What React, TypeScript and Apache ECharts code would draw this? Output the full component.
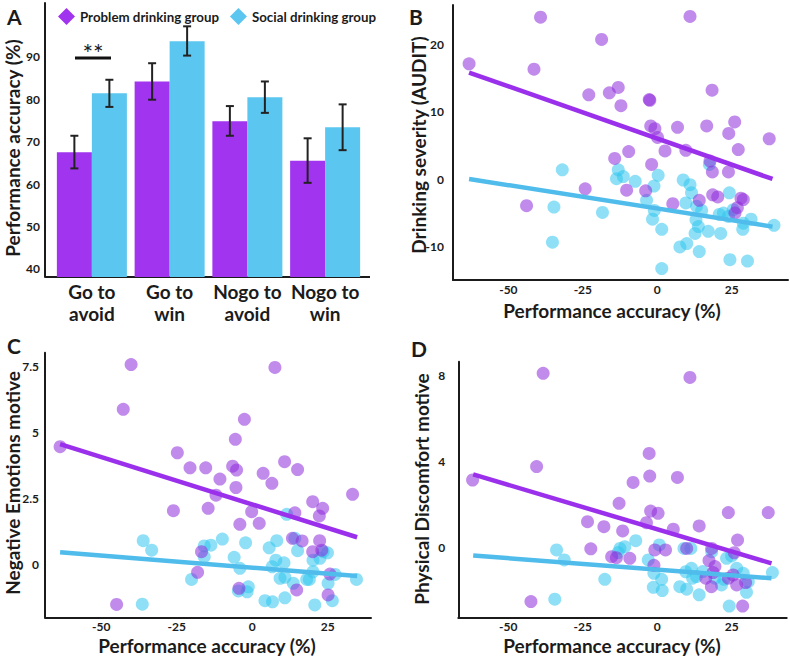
import React, { useEffect, useRef } from "react";
import * as echarts from "echarts";

// ---------- Panel A data ----------
const categories = ["Go to\navoid", "Go to\nwin", "Nogo to\navoid", "Nogo to\nwin"];
const problemMeans = [67.5, 84.2, 74.8, 65.5];
const problemErr = [[63.7, 71.4], [79.9, 88.5], [71.4, 78.4], [60.3, 70.8]];
const socialMeans = [81.4, 93.7, 80.5, 73.4];
const socialErr = [[78.2, 84.6], [90.3, 97.2], [76.8, 84.2], [68.0, 78.8]];
const aTicks = [40, 50, 60, 70, 80, 90];

// ---------- Panel B data ----------
const bProblem = [[-63.2,17.1],[-39.2,24.0],[-41.4,16.3],[-18.7,20.7],[11.0,24.1],[-23.0,12.5],[-16.1,12.8],[-13.1,13.6],[-12.2,10.9],[-2.7,11.8],[-2.5,11.7],[18.4,13.2],[-2.2,7.9],[-0.8,7.5],[0.1,6.2],[6.8,7.7],[16.6,7.9],[26.0,8.5],[24.0,6.8],[37.6,6.0],[27.2,4.4],[2.6,4.2],[9.6,4.3],[-9.6,4.1],[-14.3,3.1],[-1.9,2.2],[17.7,2.7],[18.5,1.1],[23.9,1.1],[-43.9,-3.9],[-24.2,-1.4],[-10.3,-1.6],[-3.9,-1.7],[5.2,-3.6],[14.1,-3.1],[18.6,-2.3],[20.3,-2.6],[28.9,-3.0],[28.1,-2.8],[26.9,-4.2],[26.1,-5.0]];
const bSocial = [[-31.9,1.4],[-34.7,-4.1],[-35.2,-9.3],[-18.4,-4.9],[-13.1,1.4],[-13.7,0.1],[-11.4,0.4],[-7.4,-0.3],[0.3,0.6],[-1.1,-1.0],[-3.6,-3.1],[-1.0,-4.6],[-1.6,-5.9],[1.5,-7.4],[1.5,-13.2],[8.7,-0.1],[11.0,-0.8],[11.5,-2.0],[9.6,-3.5],[13.2,-4.0],[14.9,-4.6],[13.0,-6.0],[13.8,-7.0],[12.7,-8.0],[17.1,-7.7],[21.3,-8.0],[7.6,-10.0],[9.9,-9.5],[14.1,-10.7],[24.2,-2.0],[22.2,-5.0],[23.9,-5.5],[25.5,-4.5],[28.9,-6.5],[31.5,-5.9],[28.7,-7.4],[39.2,-6.8],[24.4,-11.9],[30.3,-12.1],[17.5,2.2],[20.8,-5.2]];
const bProblemFit = [[-63.2, 15.8], [38.7, 0.05]];
const bSocialFit = [[-63.2, 0.05], [38.7, -7.0]];
const bXTicks = [-50, -25, 0, 25];
const bYTicks = [-10, 0, 10, 20];

// ---------- Panel C data ----------
const cProblem = [[-63.6,4.47],[-40.1,7.59],[-42.7,5.89],[7.5,7.48],[-2.6,5.51],[-5.6,4.75],[-24.8,4.24],[-20.6,3.67],[-15.4,3.67],[-6.5,3.73],[-5.2,3.58],[-10.7,3.24],[-5.4,2.92],[-12.0,2.63],[-26.1,2.04],[-14.6,2.13],[-0.2,2.0],[-4.1,1.52],[2.3,1.56],[3.6,3.46],[6.5,3.08],[10.7,3.9],[15.0,3.6],[14.1,1.96],[33.2,2.66],[20.0,2.38],[23.3,2.13],[22.2,1.84],[13.3,0.99],[16.5,0.89],[22.3,0.90],[20.0,0.48],[23.0,0.54],[-16.8,0.48],[-18.1,-0.30],[-44.9,-1.52],[-4.4,-0.91],[14.7,-0.97],[25.7,-0.37],[25.1,-1.16]];
const cSocial = [[-36.1,0.90],[-33.3,0.54],[-36.4,-1.51],[-20.1,-0.57],[-15.9,0.29],[-13.7,0.73],[-15.9,0.70],[-9.9,0.96],[-6.0,0.27],[-4.1,-0.15],[-2.2,0.82],[-1.3,-0.85],[-1.7,-1.04],[-4.6,-1.01],[4.2,-1.38],[6.7,-1.42],[5.6,0.63],[8.1,0.90],[7.8,0.16],[6.6,-0.09],[10.5,0.06],[10.8,-0.49],[9.2,-0.53],[10.8,-1.27],[11.4,1.90],[14.1,0.99],[15.0,0.52],[13.6,-0.72],[18.0,-0.57],[18.9,-0.57],[20.1,0.16],[20.7,-1.54],[22.4,0.23],[23.5,0.48],[24.9,0.44],[25.1,-0.72],[27.4,-0.38],[26.5,-1.38],[34.5,-0.57],[20.1,-0.28]];
const cProblemFit = [[-63.6, 4.57], [34.7, 1.03]];
const cSocialFit = [[-63.6, 0.46], [34.7, -0.44]];
const cXTicks = [-50, -25, 0, 25];
const cYTicks = [0, 2.5, 5, 7.5];

// ---------- Panel D data ----------
const dProblem = [[-62.0,3.14],[-38.3,8.08],[-40.5,3.76],[11.0,7.89],[-2.7,4.37],[-2.5,3.32],[-8.1,3.03],[6.8,3.26],[-12.8,2.06],[-23.4,1.21],[-17.9,0.98],[-11.6,0.78],[-2.2,1.70],[0.3,1.60],[-3.6,1.16],[5.4,0.86],[14.1,1.01],[23.9,1.63],[37.3,1.63],[-22.3,-0.05],[-15.3,-0.41],[-13.7,-0.46],[-9.2,-0.49],[-0.8,-0.10],[2.8,-0.10],[9.9,-0.03],[18.3,-0.03],[27.0,0.36],[25.9,-0.23],[17.4,-0.59],[19.4,-0.87],[18.8,-1.15],[16.3,-1.41],[18.2,-1.80],[23.9,-1.41],[26.7,-1.72],[29.7,-1.61],[-42.4,-2.49],[28.7,-2.70],[-1.1,-0.81],[25.5,-1.26]];
const dSocial = [[-33.8,-0.10],[-31.2,-0.56],[-34.4,-2.38],[-17.6,-1.46],[-12.5,-0.03],[-10.9,0.05],[-13.1,-0.22],[-7.2,0.33],[-3.0,-0.56],[-1.1,-1.18],[1.5,-1.46],[-1.3,-1.83],[1.7,-1.98],[0.7,0.13],[7.6,-1.80],[9.9,-1.92],[9.0,-0.03],[11.3,-0.03],[9.6,-1.11],[11.5,-0.95],[13.2,-1.33],[14.1,-2.18],[18.3,-0.18],[19.4,-1.41],[21.6,-1.72],[23.3,-0.49],[25.0,-0.38],[26.7,-0.95],[28.9,-1.18],[30.6,-1.57],[30.0,-2.06],[24.2,-2.70],[38.7,-1.15],[15.3,-1.10],[22.4,-1.46],[11.9,-1.41]];
const dProblemFit = [[-61.8, 3.40], [38.4, -0.72]];
const dSocialFit = [[-61.8, -0.36], [38.4, -1.41]];
const dXTicks = [-50, -25, 0, 25];
const dYTicks = [0, 4, 8];

const PROBLEM = "Problem drinking group";
const SOCIAL = "Social drinking group";

const FONT = "Lato, 'Open Sans', sans-serif";
const INK = "#1b1b1b";
const BAR_PURPLE = "#A134EE";
const BAR_CYAN = "#5BC6F0";
const DOT_PURPLE = "rgba(142,43,219,0.68)";
const DOT_CYAN = "rgba(49,199,238,0.68)";
const LINE_PURPLE = "#9B30EC";
const LINE_CYAN = "#4FBCEB";

function valueAxis(min: number, max: number, ticks: number[], gridIndex: number, margin: number) {
  return {
    type: "value",
    gridIndex,
    min,
    max,
    axisLine: { show: true, onZero: false, lineStyle: { color: INK, width: 2 } },
    axisTick: { show: false },
    splitLine: { show: false },
    axisLabel: {
      customValues: ticks,
      margin,
      color: INK,
      fontSize: 12,
      lineHeight: 12,
      fontWeight: "bold",
      fontFamily: FONT,
    },
  };
}

function scatterSeries(name: string, data: number[][], idx: number, color: string) {
  return {
    type: "scatter",
    name,
    xAxisIndex: idx,
    yAxisIndex: idx,
    data,
    symbolSize: 13,
    itemStyle: { color },
    z: 3,
  };
}

function fitSeries(name: string, data: number[][], idx: number, color: string) {
  return {
    type: "line",
    name,
    xAxisIndex: idx,
    yAxisIndex: idx,
    data,
    symbol: "none",
    lineStyle: { color, width: 4.5 },
    z: 5,
  };
}

function errorSeries(name: string, ranges: number[][], offset: number) {
  return {
    type: "custom",
    name,
    xAxisIndex: 0,
    yAxisIndex: 0,
    data: ranges.map((r, i) => [i, r[0], r[1]]),
    z: 6,
    renderItem: (params: any, api: any) => {
      const lo = api.coord([api.value(0), api.value(1)]);
      const hi = api.coord([api.value(0), api.value(2)]);
      const x = lo[0] + offset;
      const cap = 4;
      const st = { stroke: "#222", lineWidth: 2 };
      return {
        type: "group",
        children: [
          { type: "line", shape: { x1: x, y1: lo[1], x2: x, y2: hi[1] }, style: st },
          { type: "line", shape: { x1: x - cap, y1: lo[1], x2: x + cap, y2: lo[1] }, style: st },
          { type: "line", shape: { x1: x - cap, y1: hi[1], x2: x + cap, y2: hi[1] }, style: st },
        ],
      };
    },
  };
}

function title(text: string, x: number, y: number, rotated: boolean) {
  return {
    type: "text",
    x,
    y,
    rotation: rotated ? Math.PI / 2 : 0,
    style: {
      text,
      fill: INK,
      fontSize: 19,
      lineHeight: 17,
      fontWeight: "bold",
      fontFamily: FONT,
      align: "center",
      verticalAlign: "middle",
    },
  };
}

function letter(text: string, x: number, y: number) {
  return {
    type: "text",
    x,
    y,
    style: {
      text,
      fill: INK,
      fontSize: 21,
      fontWeight: "bold",
      fontFamily: FONT,
      align: "left",
      verticalAlign: "middle",
    },
  };
}

export default function App() {
  const ref = useRef<HTMLDivElement>(null);

  useEffect(() => {
    if (!ref.current) return;
    const chart = echarts.init(ref.current, null, { renderer: "svg" });

    const option: any = {
      animation: false,
      backgroundColor: "#ffffff",
      textStyle: { fontFamily: FONT },
      legend: {
        left: 53,
        top: 3,
        itemWidth: 17,
        itemHeight: 17,
        itemGap: 11,
        textStyle: { color: INK, fontSize: 13.3, fontWeight: "bold", fontFamily: FONT },
        data: [
          { name: PROBLEM, icon: "diamond", itemStyle: { color: BAR_PURPLE } },
          { name: SOCIAL, icon: "diamond", itemStyle: { color: BAR_CYAN } },
        ],
        selectedMode: false,
      },
      grid: [
        { left: 53, top: 3, width: 311, height: 274 },
        { left: 453, top: 5, width: 335, height: 275 },
        { left: 45, top: 352.7, width: 326, height: 264.6 },
        { left: 458.3, top: 361.7, width: 328.4, height: 255.6 },
      ],
      xAxis: [
        {
          type: "category",
          gridIndex: 0,
          data: categories,
          axisLine: { show: false },
          axisTick: { show: false },
          axisLabel: {
            interval: 0,
            margin: 3,
            color: INK,
            fontSize: 19,
            lineHeight: 22,
            fontWeight: "bold",
            fontFamily: FONT,
          },
        },
        valueAxis(-68.6, 43.9, bXTicks, 1, 3),
        valueAxis(-68.6, 39.3, cXTicks, 2, 3),
        valueAxis(-66.8, 43.5, dXTicks, 3, 3),
      ],
      yAxis: [
        { ...valueAxis(38.1, 102.7, aTicks, 0, 5), offset: 8 },
        valueAxis(-14.9, 25.8, bYTicks, 1, 9),
        valueAxis(-2.01, 8.04, cYTicks, 2, 6),
        valueAxis(-3.22, 8.62, dYTicks, 3, 13),
      ],
      series: [
        {
          type: "bar",
          name: PROBLEM,
          xAxisIndex: 0,
          yAxisIndex: 0,
          data: problemMeans,
          barWidth: 35,
          barGap: "0%",
          itemStyle: { color: BAR_PURPLE },
        },
        {
          type: "bar",
          name: SOCIAL,
          xAxisIndex: 0,
          yAxisIndex: 0,
          data: socialMeans,
          barWidth: 35,
          barGap: "0%",
          itemStyle: { color: BAR_CYAN },
        },
        errorSeries(PROBLEM, problemErr, -17.5),
        errorSeries(SOCIAL, socialErr, 17.5),

        scatterSeries(SOCIAL, bSocial, 1, DOT_CYAN),
        scatterSeries(PROBLEM, bProblem, 1, DOT_PURPLE),
        fitSeries(PROBLEM, bProblemFit, 1, LINE_PURPLE),
        fitSeries(SOCIAL, bSocialFit, 1, LINE_CYAN),

        scatterSeries(SOCIAL, cSocial, 2, DOT_CYAN),
        scatterSeries(PROBLEM, cProblem, 2, DOT_PURPLE),
        fitSeries(PROBLEM, cProblemFit, 2, LINE_PURPLE),
        fitSeries(SOCIAL, cSocialFit, 2, LINE_CYAN),

        scatterSeries(SOCIAL, dSocial, 3, DOT_CYAN),
        scatterSeries(PROBLEM, dProblem, 3, DOT_PURPLE),
        fitSeries(PROBLEM, dProblemFit, 3, LINE_PURPLE),
        fitSeries(SOCIAL, dSocialFit, 3, LINE_CYAN),
      ],
      graphic: [
        { type: "line", shape: { x1: 45, y1: 277, x2: 370, y2: 277 }, style: { stroke: INK, lineWidth: 2.2 } },
        { type: "line", shape: { x1: 75, y1: 58, x2: 111, y2: 58 }, style: { stroke: "#111", lineWidth: 3 } },
        {
          type: "text",
          x: 93,
          y: 53,
          style: { text: "**", fill: INK, fontSize: 25, lineHeight: 16, fontFamily: FONT, align: "center", verticalAlign: "middle" },
        },
        letter("A", 7, 16),
        letter("B", 409, 16),
        letter("C", 7, 345),
        letter("D", 411, 348),
        title("Performance accuracy (%)", 12, 148, true),
        title("Drinking severity (AUDIT)", 418, 145, true),
        title("Negative Emotions motive", 12, 483, true),
        title("Physical Discomfort motive", 421, 489, true),
        title("Performance accuracy (%)", 612, 310, false),
        title("Performance accuracy (%)", 207, 645, false),
        title("Performance accuracy (%)", 612, 645.5, false),
      ],
    };

    chart.setOption(option);
    return () => chart.dispose();
  }, []);

  return (
    <div
      ref={ref}
      style={{ position: "fixed", left: 0, top: 0, width: 790, height: 656, background: "#fff" }}
    />
  );
}
